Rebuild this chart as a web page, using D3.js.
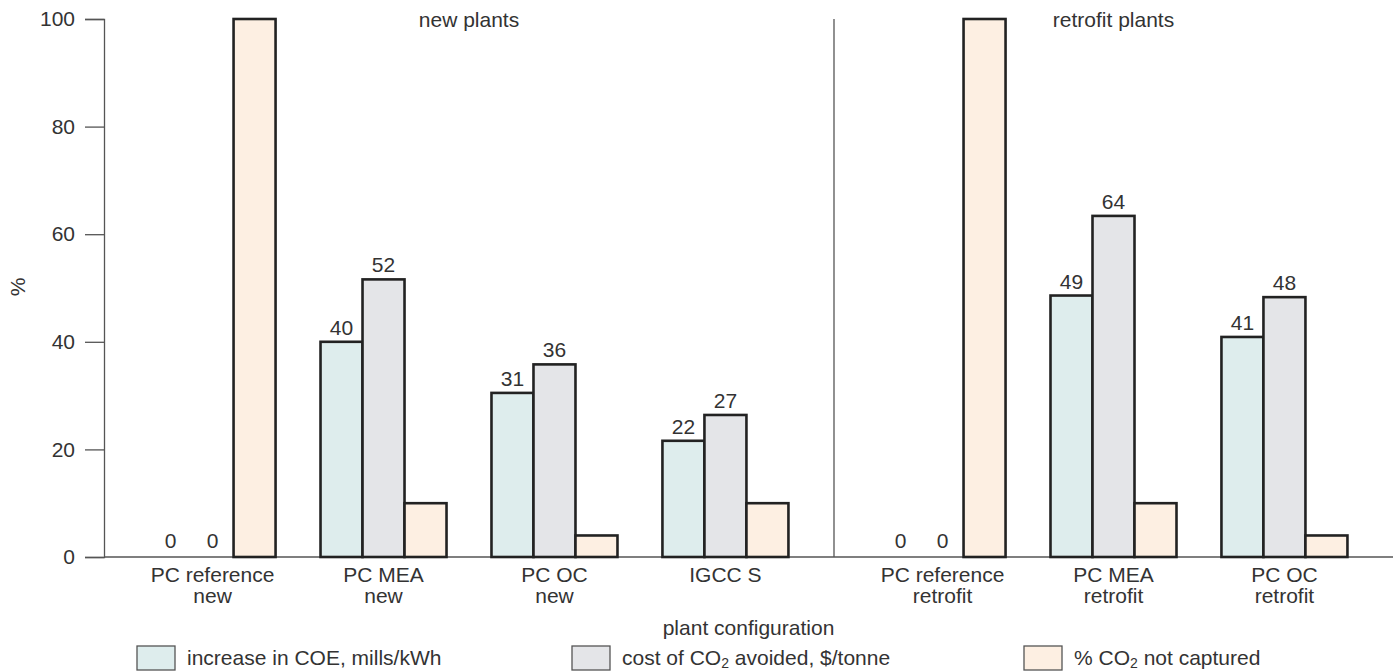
<!DOCTYPE html>
<html>
<head>
<meta charset="utf-8">
<script src="https://cdn.jsdelivr.net/npm/d3@7"></script>
<style>
  body { margin: 0; background: #fff; }
  text { font-family: "Liberation Sans", Arial, sans-serif; fill: #333; }
</style>
</head>
<body>
<script>
'use strict';

// data
const newPlants = ["PC reference|new", "PC MEA|new", "PC OC|new", "IGCC S"];
const retrofitPlants = ["PC reference|retrofit", "PC MEA|retrofit", "PC OC|retrofit"];
const coeIncrease = [0, 40, 30.5, 21.6, 0, 48.6, 40.9];
const coeLabels = ["0", "40", "31", "22", "0", "49", "41"];
const costAvoided = [0, 51.6, 35.8, 26.4, 0, 63.4, 48.3];
const costLabels = ["0", "52", "36", "27", "0", "64", "48"];
const notCaptured = [100, 10, 4, 10, 100, 10, 4];
const yTicks = [0, 20, 40, 60, 80, 100];
const seriesNames = ["increase in COE, mills/kWh", "cost of CO|2| avoided, $/tonne", "% CO|2| not captured"];
const seriesColors = ["#deeded", "#e4e5e8", "#fdefe2"];

(function() {

const width = 1400;
const height = 672;
const mLeft = 104, mRight = 1393, mTop = 19, mBottom = 557, divider = 834;
const fs = '21px';

let svg = d3.select('body').append('svg')
    .attr('width', width)
    .attr('height', height);

let y = d3.scaleLinear().domain([0, 100]).range([mBottom, mTop]);

// two panels, each with its own point scale
let xNew = d3.scalePoint().domain(newPlants).range([mLeft, divider]).padding(0.635);
let xRet = d3.scalePoint().domain(retrofitPlants).range([divider, mRight]).padding(0.635);
let categories = newPlants.concat(retrofitPlants);
let cx = function (c) { return newPlants.includes(c) ? xNew(c) : xRet(c); };

const barW = 42;

// y axis
let yAxis = d3.axisLeft(y).tickValues(yTicks).tickSize(19).tickPadding(10);
let gy = svg.append('g').attr('transform', 'translate(' + mLeft + ',0)').call(yAxis);
gy.select('.domain').attr('stroke', '#555').attr('stroke-width', 1.3);
gy.selectAll('.tick line').attr('stroke', '#555').attr('stroke-width', 1.3);
gy.selectAll('.tick text')
    .style('font-size', fs)
    .style('font-family', '"Liberation Sans", Arial, sans-serif')
    .attr('fill', '#333');

svg.append('text')
    .attr('transform', 'translate(25,' + 287 + ') rotate(-90)')
    .attr('text-anchor', 'middle')
    .style('font-size', fs)
    .text('%');

// baseline
svg.append('line')
    .attr('x1', mLeft).attr('x2', mRight)
    .attr('y1', mBottom).attr('y2', mBottom)
    .attr('stroke', '#555').attr('stroke-width', 1.3);

// divider between panels
svg.append('line')
    .attr('x1', divider).attr('x2', divider)
    .attr('y1', mTop).attr('y2', mBottom)
    .attr('stroke', '#555').attr('stroke-width', 1.3);

svg.append('text').attr('x', (mLeft + divider) / 2).attr('y', 27)
    .attr('text-anchor', 'middle').style('font-size', fs).text('new plants');
svg.append('text').attr('x', (divider + mRight) / 2).attr('y', 27)
    .attr('text-anchor', 'middle').style('font-size', fs).text('retrofit plants');

// bars
let series = [coeIncrease, costAvoided, notCaptured];
series.forEach(function (vals, s) {
    let rows = categories.map(function (c, i) { return { c: c, v: vals[i] }; })
        .filter(function (r) { return r.v > 0; });
    svg.append('g').selectAll('rect')
        .data(rows).enter()
        .append('rect')
        .attr('x', function (d) { return cx(d.c) + (s - 1.5) * barW; })
        .attr('width', barW)
        .attr('y', function (d) { return y(d.v); })
        .attr('height', function (d) { return mBottom - y(d.v); })
        .attr('fill', seriesColors[s])
        .attr('stroke', '#222')
        .attr('stroke-width', 2.6);
});

// value labels
[[coeIncrease, coeLabels], [costAvoided, costLabels]].forEach(function (pair, s) {
    svg.append('g').selectAll('text')
        .data(categories).enter()
        .append('text')
        .attr('x', function (d) { return cx(d) + (s - 1) * barW; })
        .attr('y', function (d, i) { return y(pair[0][i]) - (pair[0][i] > 0 ? 7 : 9); })
        .attr('text-anchor', 'middle')
        .style('font-size', fs)
        .text(function (d, i) { return pair[1][i]; });
});

// category labels
let cl = svg.append('g').selectAll('text')
    .data(categories).enter()
    .append('text')
    .attr('x', function (d) { return cx(d); })
    .attr('y', 582)
    .attr('text-anchor', 'middle')
    .style('font-size', fs);
cl.each(function (d) {
    let parts = d.split('|');
    let t = d3.select(this);
    parts.forEach(function (p, k) {
        t.append('tspan').attr('x', cx(d)).attr('dy', k === 0 ? 0 : 21).text(p);
    });
});

svg.append('text')
    .attr('x', (mLeft + mRight) / 2).attr('y', 635)
    .attr('text-anchor', 'middle')
    .style('font-size', fs)
    .text('plant configuration');

// legend
const legendX = [137, 572, 1024];
seriesNames.forEach(function (name, s) {
    let g = svg.append('g').attr('transform', 'translate(' + legendX[s] + ',646)');
    g.append('rect').attr('width', 38).attr('height', 24)
        .attr('fill', seriesColors[s]).attr('stroke', '#555').attr('stroke-width', 1.3);
    let t = g.append('text').attr('x', 50).attr('y', 19).style('font-size', fs);
    name.split('|').forEach(function (p, k) {
        if (k === 1) {
            t.append('tspan').attr('dy', 3).style('font-size', '14px').text(p);
        } else if (k === 2) {
            t.append('tspan').attr('dy', -3).text(p);
        } else {
            t.append('tspan').text(p);
        }
    });
});

})();
</script>
</body>
</html>
